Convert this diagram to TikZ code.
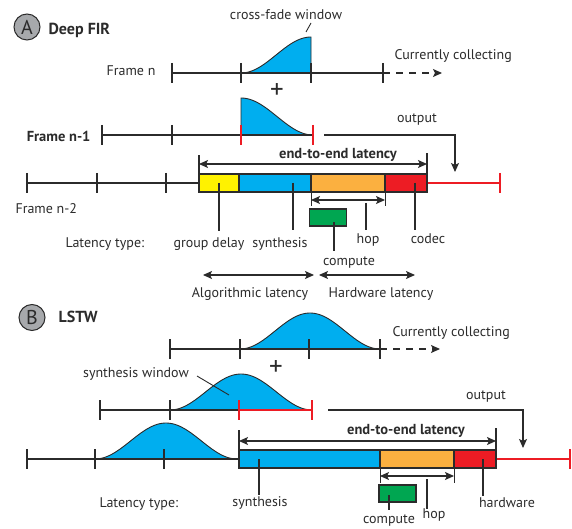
\documentclass[tikz,border=0pt]{standalone}
\usepackage{fontspec}
\setmainfont{PT Sans}
\usetikzlibrary{arrows.meta}
\definecolor{winblue}{HTML}{00AEEF}
\definecolor{gdyellow}{HTML}{FFF200}
\definecolor{hoporange}{HTML}{FBB040}
\definecolor{hwred}{HTML}{ED1C24}
\definecolor{compgreen}{HTML}{00A651}
\definecolor{ink}{HTML}{2B2B2B}
\definecolor{tagfill}{HTML}{A7A9AC}

\begin{document}
\begin{tikzpicture}[x=1pt, y=-1pt, line width=1.1pt, color=ink,
  every node/.style={font=\fontsize{14pt}{16pt}\selectfont, text=ink, inner sep=0pt},
  boldlbl/.style={font=\fontsize{14.5pt}{16pt}\selectfont\bfseries},
  titlelbl/.style={font=\fontsize{16pt}{18pt}\selectfont\bfseries},
  plussign/.style={font=\fontsize{27pt}{27pt}\selectfont},
  seg/.style={draw=ink, line width=1.1pt, minimum height=18pt, anchor=west, inner sep=0pt, outer sep=0pt},
  cbox/.style={draw=ink, line width=1.1pt, fill=compgreen, minimum width=37pt, minimum height=17pt, outer sep=0pt},
  win/.style={fill=winblue, draw=ink, line width=0.9pt},
  redmark/.style={draw=hwred, line width=1.1pt},
  tip/.style={-{Stealth[length=9pt,width=8pt,inset=2pt]}},
  both/.style={{Stealth[length=9pt,width=8pt,inset=2pt]}-{Stealth[length=9pt,width=8pt,inset=2pt]}},
  tag/.style={circle, draw=ink, line width=1pt, fill=tagfill, minimum size=26pt, font=\fontsize{20pt}{20pt}\selectfont}]
\useasboundingbox (0,0) rectangle (572,529);

%%%%%%%%%%%%%%%% (A) Deep FIR
\node[tag] (tagA) at (27,27) {A};
\node[anchor=base west, titlelbl] (titleA) at (48,35) {Deep FIR};

% Frame n
\filldraw[win] (241,73) -- plot[domain=241:311, samples=40] (\x,{73-36*0.5*(1-cos((180/70)*(\x-241)))}) -- (311,73) -- cycle;
\draw (172,73) -- (383,73);
\foreach \x in {172,241,311,383} \draw (\x,63) -- (\x,83);
\node[anchor=base east] (frnA) at (156,76) {Frame n};
\coordinate (collA) at (383,73);
\coordinate (collAend) at (442,73);
\draw[tip, dash pattern=on 7pt off 6pt] (collA) -- (collAend);
\node[anchor=base west] (collAlbl) at (394,60) {Currently collecting};
\node[anchor=base] (xfadelbl) at (286,20) {cross-fade window};
\draw[line width=0.9pt] (311,23) -- (306,32);
\node[plussign] (plusA) at (277,91) {+};

% Frame n-1
\filldraw[win] (241,135) -- plot[domain=241:313, samples=40] (\x,{135-37*0.5*(1+cos((180/72)*(\x-241)))}) -- cycle;
\draw (102,135) -- (313,135);
\foreach \x in {102,172} \draw (\x,125) -- (\x,145);
\foreach \x in {241,313} \draw[redmark] (\x,125) -- (\x,145);
\node[anchor=base east, boldlbl] (frn1A) at (91,142) {Frame n-1};

% output
\coordinate (outA) at (324,135);
\coordinate (outAend) at (455,172);
\draw[tip] (outA) -| (outAend);
\node[anchor=base] (outAlbl) at (417,123) {output};

% Frame n-2
\draw (27,183) -- (199,183);
\foreach \x in {27,97,166} \draw (\x,173) -- (\x,193);
\node[anchor=base west] (frn2A) at (15,214) {Frame n-2};

% latency bar
\node[seg, fill=gdyellow, minimum width=40pt] (gdA) at (199,183) {};
\node[seg, fill=winblue, minimum width=72pt] (synA) at (gdA.east) {};
\node[seg, fill=hoporange, minimum width=74pt] (hopA) at (synA.east) {};
\node[seg, fill=hwred, minimum width=42pt] (codecA) at (hopA.east) {};
\draw[redmark] (codecA.east) -- (500,183);
\draw[redmark] (500,173) -- (500,193);

% end-to-end latency
\draw (gdA.north west) -- (199,155);
\draw (codecA.south east) -- (427,153);
\draw[both] (199,164) -- (427,164);
\node[anchor=base, boldlbl] (e2eA) at (338,159) {end-to-end latency};

% hop + compute
\draw[line width=0.9pt] (311,193) -- (311,206);
\draw[line width=0.9pt] (385,193) -- (385,206);
\draw[both] (311,200) -- (385,200);
\node[cbox] (compA) at (328,217.5) {};

% latency type labels
\node[anchor=base west] (typeA) at (65,247) {Latency type:};
\node[anchor=base] (gdlblA) at (209,247) {group delay};
\node[anchor=base] (synlblA) at (280,247) {synthesis};
\node[anchor=base] (hoplblA) at (368,243) {hop};
\node[anchor=base] (codeclblA) at (428,243) {codec};
\node[anchor=base] (complblA) at (349,265) {compute};
\coordinate (synpinA) at (293,183);
\coordinate (hoppinA) at (366,203);
\coordinate (codecpinA) at (415,183);
\coordinate (comppinA) at (334,222);
\draw (gdA.center) -- (219,231);
\draw (synpinA) -- (293,230);
\draw (hoppinA) -- (366,230);
\draw (codecpinA) -- (415,230);
\draw (comppinA) -- (334,251);

% algorithmic / hardware
\draw[both] (203,275) -- (314,275);
\draw[both] (319,275) -- (415,275);
\node[anchor=base] (alglblA) at (250,297) {Algorithmic latency};
\node[anchor=base] (hwlblA) at (381,297) {Hardware latency};

%%%%%%%%%%%%%%%% (B) LSTW
\node[tag] (tagB) at (32,317.5) {B};
\node[anchor=base west, titlelbl] (titleB) at (58,322) {LSTW};

% currently collecting frame
\filldraw[win] plot[domain=240:380, samples=60] (\x,{349-36*0.5*(1-cos((360/140)*(\x-240)))}) -- cycle;
\draw (170,349) -- (380,349);
\foreach \x in {170,240,309,380} \draw (\x,339) -- (\x,359);
\coordinate (collB) at (380,349);
\coordinate (collBend) at (440,349);
\draw[tip, dash pattern=on 7pt off 6pt] (collB) -- (collBend);
\node[anchor=base west] (collBlbl) at (392,336) {Currently collecting};
\node[plussign] (plusB) at (276,368) {+};

% previous frame
\filldraw[win] plot[domain=170:312, samples=60] (\x,{410-36*0.5*(1-cos((360/142)*(\x-170)))}) -- cycle;
\draw (100,410) -- (239,410);
\foreach \x in {100,170} \draw (\x,400) -- (\x,420);
\draw[redmark] (239,410) -- (312,410);
\foreach \x in {239,312} \draw[redmark] (\x,400) -- (\x,420);
\node[anchor=base] (swinlbl) at (136,377) {synthesis window};
\draw[line width=0.9pt] (197,376) -- (229,395);

% output
\coordinate (outB) at (328,410);
\coordinate (outBend) at (523,448);
\draw[tip] (outB) -| (outBend);
\node[anchor=base] (outBlbl) at (486,399) {output};

% older frame
\filldraw[win] plot[domain=95:237, samples=60] (\x,{459-36*0.5*(1-cos((360/142)*(\x-95)))}) -- cycle;
\draw (27,459) -- (239,459);
\foreach \x in {27,95,164} \draw (\x,449) -- (\x,469);

% latency bar
\node[seg, fill=winblue, minimum width=141pt] (synB) at (239,459) {};
\node[seg, fill=hoporange, minimum width=74pt] (hopB) at (synB.east) {};
\node[seg, fill=hwred, minimum width=42pt] (hwB) at (hopB.east) {};
\draw[redmark] (hwB.east) -- (570,459);
\draw[redmark] (570,449) -- (570,469);

% end-to-end latency
\draw (synB.south west) -- (239,430);
\draw (hwB.south east) -- (496,428);
\draw[both] (239,441) -- (496,441);
\node[anchor=base, boldlbl] (e2eB) at (406,434) {end-to-end latency};

% hop + compute
\draw[line width=0.9pt] (380,468) -- (380,483);
\draw[line width=0.9pt] (454,468) -- (454,483);
\draw[both] (380,476) -- (454,476);
\node[cbox] (compB) at (397.5,493.5) {};

% latency type labels
\node[anchor=base west] (typeB) at (99,507) {Latency type:};
\node[anchor=base] (synlblB) at (260,506) {synthesis};
\node[anchor=base] (hwlblB) at (507,507) {hardware};
\node[anchor=base] (complblB) at (389,523) {compute};
\node[anchor=base] (hoplblB) at (434,518) {hop};
\coordinate (synpinB) at (259,459);
\coordinate (hwpinB) at (483,459);
\coordinate (comppinB) at (389,495);
\coordinate (hoppinB) at (427,479);
\draw (synpinB) -- (259,495);
\draw (hwpinB) -- (483,496);
\draw (comppinB) -- (389,510);
\draw (hoppinB) -- (427,509);
\end{tikzpicture}
\end{document}
